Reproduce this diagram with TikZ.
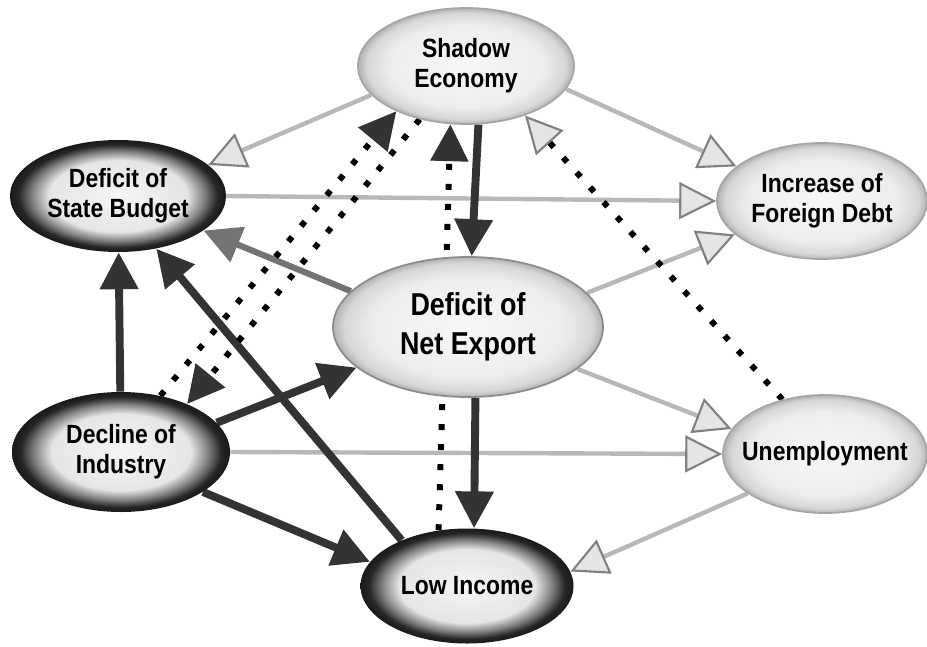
\documentclass[tikz,border=0pt]{standalone}
\usepackage{fontspec}
\newfontfamily\lblfont[FakeStretch=0.87]{Liberation Sans}
\newfontfamily\bigfont[FakeStretch=0.85]{Liberation Sans}
\usetikzlibrary{shapes.geometric,arrows.meta}
\pgfdeclarelayer{bg}
\pgfsetlayers{bg,main}
\pgfdeclareradialshading{darkrim}{\pgfpointorigin}{color(0bp)=(black!4); color(16bp)=(black!10); color(20bp)=(black!50); color(23bp)=(black!85); color(25bp)=(black!90); color(50bp)=(black!90)}
\pgfdeclareradialshading{literim}{\pgfpointorigin}{color(0bp)=(black!3); color(18bp)=(black!7); color(23bp)=(black!16); color(25bp)=(black!30); color(50bp)=(black!30)}
\begin{document}
\begin{tikzpicture}[
    box/.style={ellipse, align=center, inner xsep=-0.3cm, inner ysep=0pt,
      font=\lblfont\bfseries\fontsize{15}{17}\selectfont},
    darknode/.style={box, shading=darkrim},
    litenode/.style={box, shading=literim, draw=black!35, line width=1pt},
    dk/.style={draw=black!80, line width=4.5pt, -{Triangle[length=21pt,width=21pt]}},
    md/.style={draw=black!55, line width=3.5pt, -{Triangle[length=21pt,width=21pt]}},
    lt/.style={draw=black!28, line width=2.5pt,
      -{Triangle[length=21pt,width=21pt,line width=1.2pt,color=black!50,fill=black!10]}},
    dot/.style={draw=black, line width=3.4pt, dash pattern=on 3.4pt off 8pt,
      -{Triangle[length=21pt,width=21pt,color=black!80]}},
    dotlt/.style={draw=black, line width=3.4pt, dash pattern=on 3.4pt off 8pt,
      -{Triangle[length=21pt,width=21pt,line width=1.2pt,color=black!50,fill=black!10]}}
  ]
  \useasboundingbox (0,0) rectangle (18.54,12.92);
  \path
    (9.32,11.60) node[litenode, minimum width=4.32cm, minimum height=2.32cm] (shadow){Shadow\\Economy}
    (2.36,9.00) node[darknode, minimum width=4.32cm, minimum height=2.24cm] (budget){Deficit of\\State Budget}
    (16.44,8.90) node[litenode, minimum width=4.2cm, minimum height=2.32cm] (debt){Increase of\\Foreign Debt}
    (9.36,6.38) node[litenode, draw=black!45, minimum width=5.4cm, minimum height=2.8cm,
      font=\bigfont\bfseries\fontsize{18}{22}\selectfont] (export){Deficit of\\Net Export}
    (2.42,3.88) node[darknode, minimum width=4.36cm, minimum height=2.4cm] (decline){Decline of\\Industry}
    (9.34,1.20) node[darknode, minimum width=4.26cm, minimum height=2.3cm] (income){Low Income}
    (16.50,3.84) node[litenode, minimum width=4.08cm, minimum height=2.36cm] (unemp){Unemployment};
  \begin{pgfonlayer}{bg}
    \draw[lt] (shadow.197) -- (budget.19);
    \draw[lt] (shadow.347) -- (debt.158);
    \draw[lt] (budget.east) -- (debt.west);
    \draw[lt] (export.16) -- (debt.201);
    \draw[lt] (export.339) -- (unemp.165);
    \draw[lt] (decline.east) -- (unemp.west);
    \draw[lt] (unemp.207) -- (income.8);
    \draw[md] (export.163) -- (budget.338);
    \draw[dk] (decline) -- (budget);
    \draw[dk] (income.145) -- (budget.306);
    \draw[dk] (shadow.282) -- (export.87);
    \draw[dk] (export.276) -- (income.83);
    \draw[dk] (decline.17) -- (export.200);
    \draw[dk] (decline.334) -- (income.166);
    \draw[dot] (decline.55) -- (shadow.213);
    \draw[dot] (shadow.229) -- (decline.36);
    \draw[dot] (income.117) -- (shadow.255);
    \draw[dotlt] (unemp.128) -- (shadow.320);
  \end{pgfonlayer}
\end{tikzpicture}
\end{document}
